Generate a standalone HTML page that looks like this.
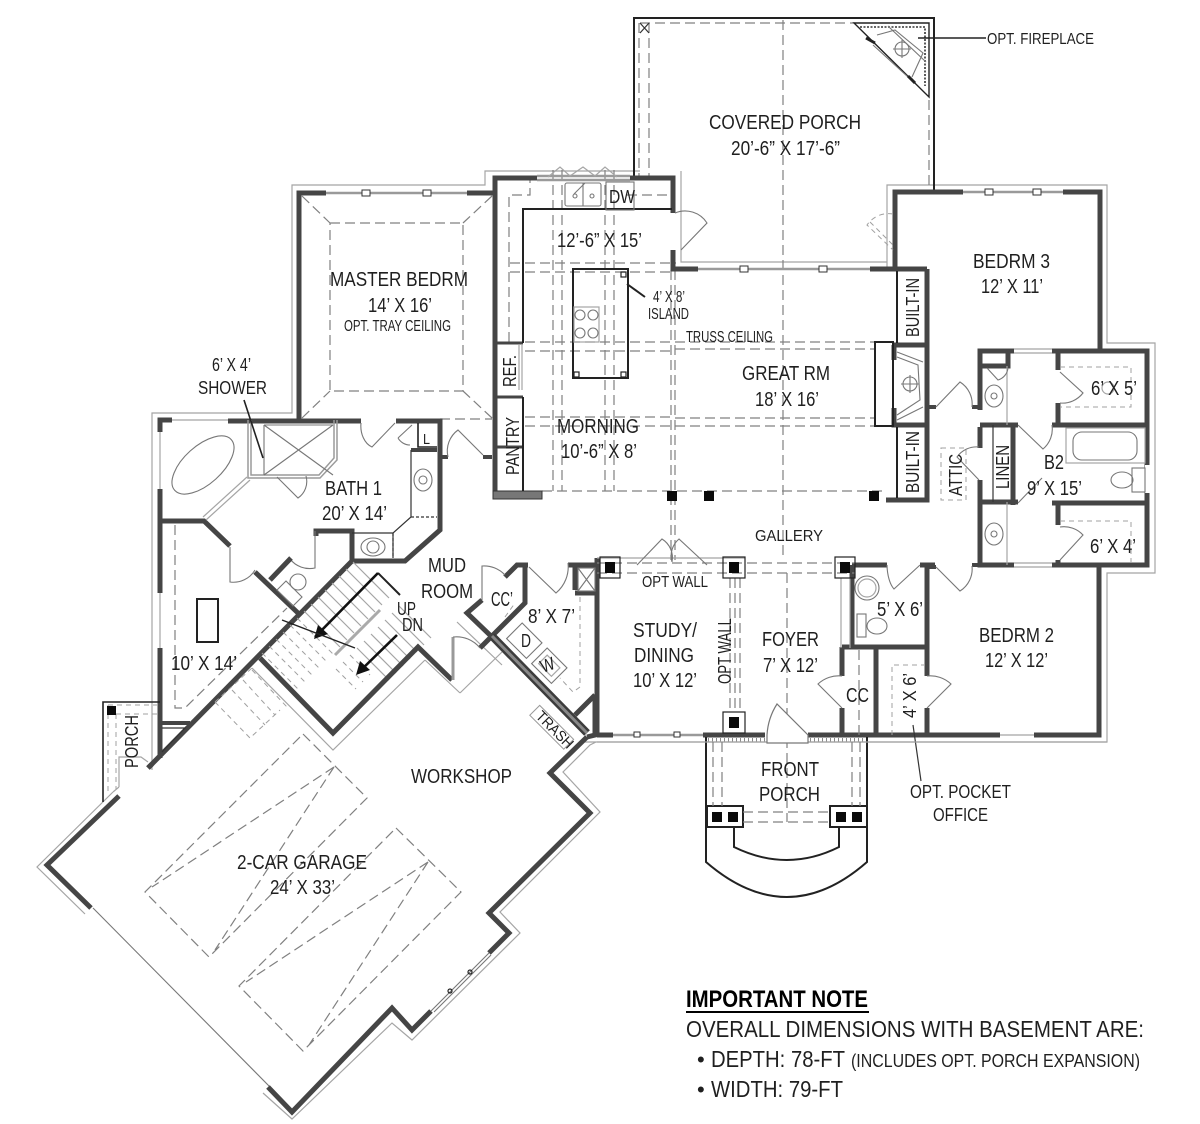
<!DOCTYPE html>
<html>
<head>
<meta charset="utf-8">
<style>
html,body{margin:0;padding:0;background:#fff}
svg{display:block}
text{font-family:"Liberation Sans",sans-serif;fill:#1f1f1f}
.w{stroke:#454545;stroke-width:5;fill:none}
.k{stroke:#222;stroke-width:2;fill:none}
.t{stroke:#333;stroke-width:1.2;fill:none}
.g{stroke:#a5a5a5;stroke-width:1.2;fill:none}
.m{stroke:#777;stroke-width:1.1;fill:none}
.d{stroke:#808080;stroke-width:1.2;fill:none;stroke-dasharray:10 5}
.s{stroke:#a0a0a0;stroke-width:1;fill:none;stroke-dasharray:5 4}
.v{stroke:#9a9a9a;stroke-width:2.5;fill:none}
</style>
</head>
<body>
<svg width="1200" height="1124" viewBox="0 0 1200 1124" xmlns="http://www.w3.org/2000/svg">
<rect width="1200" height="1124" fill="#fff"/>

<!-- outer light outline -->
<path class="g" d="M152,770V413H292V185H485V171H640M887,270V185H1107V343H1155V573H1107V742H585M113,792L37,867L85,914M263,1093L292,1119L392,1023L412,1040L520,933L500,912L600,812L563,772L590,745L596,742"/>
<path class="g" d="M681,171V262H887"/>
<path class="g" d="M252,668L333,750L425,660M460,693L502,652M457,622L502,665M460,693L425,660"/>

<!-- covered porch -->
<path class="k" d="M634,178V18H934V190" style="stroke-width:2"/>
<path class="d" d="M640,23H855M639,23V178M649,23V178M783,20V560M929,100V190"/>
<path class="t" d="M640,23L649,33M649,23L640,33"/>
<path class="k" d="M854,23H929V97Z" style="stroke-width:1.4"/>
<path class="t" d="M860,27H925V86" style="stroke-dasharray:2 1.5;stroke-width:1.6"/>
<path class="m" d="M873,45L908,77M877,35L895,30L923,53L912,77M888,26L926,62" />
<path class="k" d="M866,38L875,43M908,76L915,83" style="stroke-width:3"/>
<circle class="m" cx="902" cy="49" r="7"/><path class="m" d="M902,40V58M893,49H911"/>
<path class="k" d="M918,38H986" style="stroke-width:1.6"/>

<!-- dashed ceilings -->
<path class="d" d="M553,170V491M562,170V491M605,170V491M614,170V491M510,263H676M510,272H672M525,342H875M525,351H672M675,349H875M525,417H675M675,418H875M525,426H875M542,491H886M671,270V560M675,270V560M509,342V195H530V180M627,195H670"/>
<path class="d" d="M330,223H463V391H330ZM302,196L330,223M492,196L463,223M302,418L330,391M492,418L463,391M440,419H492"/>

<!-- master walls -->
<path class="w" d="M326,193H299V423M467,193H493M228,421H361M396,421H440V530L405,561H352V531H316V536"/>
<path class="v" d="M326,193H467"/>
<rect x="362" y="190" width="8" height="6" fill="#fff" stroke="#333"/>
<rect x="423" y="190" width="8" height="6" fill="#fff" stroke="#333"/>

<!-- kitchen / great room walls -->
<path class="w" d="M537,178H495V498M630,178H673V213M673,250V269H698M870,269H895V192H963M1063,192H1100V351M895,269H927M927,269V500H886M894,345H927M894,345V360M894,408V425H927"/>
<path class="k" d="M897,271V343M897,427V498"/>
<path class="v" d="M537,176H630M537,180H630M698,269H870M963,192H1063"/>
<rect x="740" y="266" width="8" height="6" fill="#fff" stroke="#333"/>
<rect x="819" y="266" width="8" height="6" fill="#fff" stroke="#333"/>
<rect x="985" y="189" width="8" height="6" fill="#fff" stroke="#333"/>
<rect x="1033" y="189" width="8" height="6" fill="#fff" stroke="#333"/>
<rect x="493" y="491" width="49" height="8" fill="#777" stroke="#333"/>
<path class="w" style="stroke-width:3" d="M495,343H523M495,397H523M495,447H523"/>
<path class="k" d="M523,397V491M523,343V209H672"/>
<!-- sink, DW -->
<rect x="565" y="183" width="36" height="23" rx="2" class="m"/><path class="m" d="M583,183V206"/>
<circle class="m" cx="575" cy="196" r="2"/><circle class="m" cx="592" cy="196" r="2"/><path class="m" d="M574,194L585,183"/>
<rect x="606" y="182" width="28" height="28" class="m"/>
<path class="g" d="M548,177L560,167L570,176L583,167L595,176L605,167L617,177"/>
<!-- island -->
<rect x="573" y="269" width="55" height="109" class="k"/>
<rect x="574" y="307" width="25" height="35" class="g"/>
<circle class="m" cx="580" cy="315" r="5"/><circle class="m" cx="593" cy="315" r="5"/><circle class="m" cx="580" cy="333" r="5"/><circle class="m" cx="593" cy="333" r="5"/>
<rect x="621" y="272" width="5" height="5" class="k" style="stroke-width:1.2"/><rect x="574" y="372" width="5" height="5" class="k" style="stroke-width:1.2"/><rect x="621" y="372" width="5" height="5" class="k" style="stroke-width:1.2"/>
<path class="k" d="M627,284L645,297"/>
<path class="g" d="M519,345V390M522,345V390"/>
<!-- posts -->
<rect x="667" y="491" width="10" height="10" fill="#0a0a0a"/><rect x="704" y="491" width="10" height="10" fill="#0a0a0a"/><rect x="869" y="491" width="10" height="10" fill="#0a0a0a"/>
<!-- fireplace great room -->
<rect x="875" y="342" width="18" height="84" class="k"/>
<path class="m" d="M897,357L918,365L920,400L897,415M897,352L923,362M897,420L923,407"/>
<circle class="m" cx="910" cy="384" r="7"/><path class="m" d="M910,375V393M901,384H919"/>

<!-- door great room -> bedroom wing -->
<path class="w" style="stroke-width:4" d="M928,407H936M972,407H980M928,567H936M972,565H980"/>
<path class="m" d="M936,407L960,382A26,26 0 0 1 972,407M936,567L960,591A26,26 0 0 0 972,566"/>
<path class="m" d="M681,250L707,223A26,26 0 0 0 675,213"/>
<path class="s" d="M893,214A26,26 0 0 0 867,225L893,250M870,222L893,245"/>

<!-- bedroom wing walls -->
<path class="w" d="M1014,351H980V410M980,427V448M980,480V565H1014M1052,351H1147V565H1052M1058,351V370M1058,403V425M1052,425H1147M980,425H1018M1013,425V505M980,502H1018M1052,503H1147M1058,503V525M1058,560V565M1099,565V735H1034M992,735H876M982,366H1008V351"/>
<path class="g" d="M1014,349H1052M1014,353H1052M1014,563H1052M1014,567H1052M992,735H1034M1007,366V425M1007,502V565M1149,465V493"/>
<rect x="1145" y="465" width="6" height="28" fill="#fff" stroke="none"/>
<path class="t" d="M993,425V502"/>
<path class="m" d="M1018,425L1043,449A26,26 0 0 0 1052,425M1018,503L1042,478M1060,372L1083,393A26,26 0 0 1 1060,403M1060,527A26,26 0 0 1 1083,535L1060,560"/>
<path class="m" d="M979,480L957,457A24,24 0 0 1 979,447M987,368L998,380A14,14 0 0 0 1008,368"/>
<path class="s" d="M941,448H966V500H941ZM1060,367H1131V407H1060M1060,521H1131V565"/>
<circle class="g" cx="1108" cy="388" r="6"/>
<ellipse class="m" cx="994" cy="396" rx="9" ry="11"/><ellipse class="m" cx="994" cy="534" rx="9" ry="11"/>
<circle class="m" cx="994" cy="396" r="3"/><circle class="m" cx="994" cy="534" r="3"/>
<rect x="1066" y="428" width="79" height="35" class="g"/>
<rect x="1073" y="432" width="64" height="28" rx="9" class="m"/>
<rect x="1132" y="468" width="13" height="24" class="m"/><ellipse class="m" cx="1122" cy="480" rx="11" ry="8"/>

<!-- study / foyer / front -->
<path class="w" d="M597,558V735M597,735H613M703,735H765M808,735H1000M852,565V648M852,565H887M920,565H935M927,565V676M927,708V735M842,647H927M842,647V676M842,708V735M876,647V735"/>
<path class="v" d="M613,735H703"/>
<rect x="634" y="732" width="6" height="5" fill="#fff" stroke="#333"/><rect x="674" y="732" width="6" height="5" fill="#fff" stroke="#333"/>
<path class="d" d="M597,563H855M597,573H855M730,578V712M735,578V712M740,578V712M787,573V822M859,650V735"/>
<path class="s" d="M892,735V665H925"/>
<path class="g" d="M597,558H745M841,578V648M850,578V648"/>
<rect x="600" y="557" width="20" height="21" fill="#fff" class="k" style="stroke-width:1.2"/><rect x="605" y="562" width="10" height="11" fill="#0a0a0a"/>
<rect x="723" y="557" width="22" height="21" fill="#fff" class="k" style="stroke-width:1.2"/><rect x="729" y="562" width="10" height="11" fill="#0a0a0a"/>
<rect x="835" y="557" width="20" height="21" fill="#fff" class="k" style="stroke-width:1.2"/><rect x="840" y="562" width="10" height="11" fill="#0a0a0a"/>
<rect x="723" y="712" width="22" height="21" fill="#fff" class="k" style="stroke-width:1.2"/><rect x="729" y="717" width="10" height="11" fill="#0a0a0a"/>
<path class="m" d="M637,565L662,539A22,22 0 0 1 672,562M707,565L679,539A22,22 0 0 0 672,562"/>
<path class="m" d="M842,676A30,30 0 0 0 818,684L842,708M927,676A30,30 0 0 1 951,684L927,708"/>
<circle class="m" cx="867" cy="588" r="12"/><circle class="g" cx="867" cy="588" r="9"/>
<rect x="857" y="614" width="9" height="23" class="m"/><ellipse class="m" cx="877" cy="626" rx="10" ry="8"/>
<path class="m" d="M887,565A12,28 0 0 0 894,589L920,565"/>
<path class="t" d="M913,725L921,781"/>

<!-- front porch -->
<path class="s" style="stroke:#888;stroke-width:4;stroke-dasharray:1 3" d="M708,740H765M810,740H866"/>
<path class="k" d="M706,737V862Q787,932 867,862V737M707,806H743V827H707ZM830,806H867V827H830ZM734,827V847Q787,873 839,847V827"/>
<path class="g" d="M597,742H1107"/>
<path class="d" d="M713,742V806M722,742V806M852,742V806M860,742V806M743,812H830M743,822H830"/>
<rect x="712" y="812" width="10" height="10" fill="#0a0a0a"/><rect x="728" y="812" width="10" height="10" fill="#0a0a0a"/><rect x="836" y="812" width="10" height="10" fill="#0a0a0a"/><rect x="852" y="812" width="10" height="10" fill="#0a0a0a"/>
<path d="M767,743V735Q768,718 777,704L808,735V743Z" fill="#fff" stroke="#777" stroke-width="1.2"/>

<!-- bath 1 -->
<path class="w" d="M172,420H160V432M160,489V593M160,648V758M160,521H204L230,546"/>
<path class="w" d="M352,561L148,768"/>
<path class="g" d="M172,420H228M160,432V489M160,593V648"/>
<path class="v" style="stroke-width:1.5" d="M248,420V478H320L337,460V420M251,420V475H319L334,458V420"/>
<path class="m" d="M264,425H333M264,425V475M264,425L333,475M264,475L333,425"/>
<path class="k" d="M244,400L263,458" style="stroke-width:1.6"/>
<ellipse class="m" cx="203" cy="465" rx="38" ry="19" transform="rotate(-42 203 465)"/>
<path class="g" d="M203,517L247,477M206,520L250,480"/>
<path class="m" d="M277,477L298,498A20,20 0 0 0 306,476M230,547V582A25,25 0 0 0 255,570"/>
<path class="m" d="M361,423A16,22 0 0 0 372,447L395,423M398,438L412,425M398,438A14,14 0 0 0 410,445"/>
<path class="k" d="M418,423V447H437" style="stroke-width:1.6"/>
<path class="w" style="stroke-width:4" d="M411,450H437M442,457H448M483,457H492"/>
<path class="t" d="M411,450V517L393,533V558M352,533H393"/>
<path class="t" style="stroke-dasharray:3 2" d="M411,517H437M393,533V558"/>
<path class="m" d="M448,457A26,26 0 0 1 458,430L483,455"/>
<ellipse class="m" cx="423" cy="480" rx="9" ry="11"/><ellipse class="m" cx="373" cy="547" rx="12" ry="9"/><circle class="m" cx="423" cy="480" r="4"/><circle class="m" cx="373" cy="547" r="6"/>
<path class="m" d="M315,531V568A25,25 0 0 1 290,559"/>
<path class="w" d="M255,572L298,613M270,580L291,558"/>
<ellipse class="m" cx="298" cy="582" rx="8" ry="8"/><path class="m" d="M277,590L286,581L302,597L293,606Z"/>

<!-- closet left -->
<path class="d" d="M175,525V708H185L287,608"/>
<rect x="197" y="599" width="21" height="43" class="k"/>
<path class="w" style="stroke-width:4" d="M160,723H190"/>
<path class="t" d="M162,728H185L162,752"/>

<!-- stairs -->
<path class="g" d="M353,562l36,36M346,569l36,36M339,576l36,36M332,583l36,36M325,590l36,36M318,597l36,36M311,604l36,36M304,611l36,36M399,606l32,32M392,613l32,32M385,620l32,32M378,627l32,32M371,634l32,32M364,641l32,32M357,648l32,32"/>
<path class="s" d="M297,618l36,36M290,625l36,36M283,632l36,36M276,639l36,36M269,646l36,36M262,653l36,36M350,655l20,20M343,662l20,20M336,669l20,20"/>
<path class="s" d="M215,702L250,738L280,710M232,690L265,725M243,680L275,715M252,670L287,707M215,702L252,668"/>
<path class="k" d="M378,573L400,595"/>
<path d="M378,573L315,637M397,635L358,673" stroke="#111" stroke-width="2.6" fill="none"/>
<polygon points="314,639 318,625 328,634" fill="#111"/><polygon points="356,675 360,661 370,670" fill="#111"/>
<path d="M380,610L335,655" stroke="#aaa" stroke-width="3" fill="none"/>
<path class="k" d="M282,620L355,648" style="stroke-width:1.4"/>
<path class="w" d="M260,658L333,733L418,647L452,680"/>
<path d="M453,680V637" stroke="#999" stroke-width="3" fill="none"/>

<!-- mud room / laundry -->
<path class="w" d="M482,600L467,613L492,637M505,577L517,565H528M525,565V603L480,648M568,565H597M575,565V590M575,593H597"/>
<path d="M492,636L587,733" stroke="#3c3c3c" stroke-width="8" fill="none"/>
<path d="M492,636L587,733" stroke="#888" stroke-width="3" fill="none"/>
<path class="m" d="M505,575A28,28 0 0 0 482,566V600M529,567L556,593A34,34 0 0 0 568,563M453,637A30,30 0 0 1 480,648"/>
<rect x="578" y="568" width="17" height="23" class="m"/><path class="m" d="M578,568L595,591M595,568L578,591"/>
<path class="s" d="M580,597V687L573,692L560,678M505,617L515,603"/>
<g transform="rotate(45 525 640)"><rect x="511" y="630" width="28" height="22" class="m"/></g>
<g transform="rotate(45 550 665)"><rect x="536" y="655" width="28" height="22" class="m"/><rect x="541" y="660" width="18" height="12" class="g"/></g>
<path class="w" d="M575,715L595,695"/>
<g transform="rotate(45 551 728)"><rect x="527" y="720" width="48" height="14" fill="#fff" stroke="#999" stroke-width="1"/></g>

<!-- garage -->
<path class="w" d="M148,768L152,764"/>
<path class="w" d="M119,796L47,865L91,908"/>
<path class="m" d="M93,908L270,1087"/>
<path class="w" d="M268,1087L292,1112L392,1008L412,1030L431,1011M489,953L509,933L489,913L590,813L550,773L587,737"/>
<path class="m" d="M431,1011L489,953M434,1012L491,955"/>
<circle class="k" cx="450" cy="991" r="2" style="stroke-width:1.2"/><circle class="k" cx="470" cy="972" r="2" style="stroke-width:1.2"/>
<path d="M595,695V735L587,737" stroke="#454545" stroke-width="5" fill="none"/>
<path class="d" d="M303,734L367,798L209,957L145,892ZM334,767L152,887M334,767L215,950M396,828L461,892L303,1051L239,986ZM428,862L246,982M428,862L309,1045"/>

<!-- porch left -->
<path class="k" d="M103,802V702H160" style="stroke-width:1.6"/>
<path class="s" d="M108,705V795M116,714V790M108,705H160M116,714H160"/>
<path class="g" d="M119,787V757H141L148,762M119,787L113,792"/>
<rect x="107" y="706" width="9" height="9" fill="#0a0a0a"/>

<!-- labels -->
<g style="font-size:20px">
<text x="709" y="129" textLength="152" lengthAdjust="spacingAndGlyphs">COVERED PORCH</text>
<text x="731" y="155" textLength="109" lengthAdjust="spacingAndGlyphs">20’-6” X 17’-6”</text>
<text x="973" y="268" textLength="77" lengthAdjust="spacingAndGlyphs">BEDRM 3</text>
<text x="981" y="293" textLength="62" lengthAdjust="spacingAndGlyphs">12’ X 11’</text>
<text x="330" y="286" textLength="138" lengthAdjust="spacingAndGlyphs">MASTER BEDRM</text>
<text x="368" y="312" textLength="64" lengthAdjust="spacingAndGlyphs">14’ X 16’</text>
<text x="557" y="247" textLength="85" lengthAdjust="spacingAndGlyphs">12’-6” X 15’</text>
<text x="742" y="380" textLength="88" lengthAdjust="spacingAndGlyphs">GREAT RM</text>
<text x="755" y="406" textLength="64" lengthAdjust="spacingAndGlyphs">18’ X 16’</text>
<text x="557" y="433" textLength="82" lengthAdjust="spacingAndGlyphs">MORNING</text>
<text x="561" y="458" textLength="76" lengthAdjust="spacingAndGlyphs">10’-6” X 8’</text>
<text x="1044" y="469" textLength="20" lengthAdjust="spacingAndGlyphs">B2</text>
<text x="1027" y="495" textLength="55" lengthAdjust="spacingAndGlyphs">9’ X 15’</text>
<text x="1091" y="395" textLength="46" lengthAdjust="spacingAndGlyphs">6’ X 5’</text>
<text x="1090" y="553" textLength="46" lengthAdjust="spacingAndGlyphs">6’ X 4’</text>
<text x="979" y="642" textLength="75" lengthAdjust="spacingAndGlyphs">BEDRM 2</text>
<text x="985" y="667" textLength="63" lengthAdjust="spacingAndGlyphs">12’ X 12’</text>
<text x="877" y="616" textLength="46" lengthAdjust="spacingAndGlyphs">5’ X 6’</text>
<text x="846" y="702" textLength="23" lengthAdjust="spacingAndGlyphs">CC</text>
<text x="762" y="646" textLength="57" lengthAdjust="spacingAndGlyphs">FOYER</text>
<text x="763" y="672" textLength="55" lengthAdjust="spacingAndGlyphs">7’ X 12’</text>
<text x="633" y="637" textLength="64" lengthAdjust="spacingAndGlyphs">STUDY/</text>
<text x="634" y="662" textLength="60" lengthAdjust="spacingAndGlyphs">DINING</text>
<text x="633" y="687" textLength="64" lengthAdjust="spacingAndGlyphs">10’ X 12’</text>
<text x="761" y="776" textLength="58" lengthAdjust="spacingAndGlyphs">FRONT</text>
<text x="759" y="801" textLength="61" lengthAdjust="spacingAndGlyphs">PORCH</text>
<text x="325" y="495" textLength="57" lengthAdjust="spacingAndGlyphs">BATH 1</text>
<text x="322" y="520" textLength="65" lengthAdjust="spacingAndGlyphs">20’ X 14’</text>
<text x="428" y="572" textLength="38" lengthAdjust="spacingAndGlyphs">MUD</text>
<text x="421" y="598" textLength="52" lengthAdjust="spacingAndGlyphs">ROOM</text>
<text x="491" y="606" textLength="22" lengthAdjust="spacingAndGlyphs">CC’</text>
<text x="528" y="623" textLength="47" lengthAdjust="spacingAndGlyphs">8’ X 7’</text>
<text x="171" y="670" textLength="66" lengthAdjust="spacingAndGlyphs">10’ X 14’</text>
<text x="411" y="783" textLength="101" lengthAdjust="spacingAndGlyphs">WORKSHOP</text>
<text x="237" y="869" textLength="130" lengthAdjust="spacingAndGlyphs">2-CAR GARAGE</text>
<text x="270" y="894" textLength="65" lengthAdjust="spacingAndGlyphs">24’ X 33’</text>
</g>
<g style="font-size:18px">
<text x="397" y="615" textLength="19" lengthAdjust="spacingAndGlyphs">UP</text>
<text x="402" y="631" textLength="21" lengthAdjust="spacingAndGlyphs">DN</text>
<text x="212" y="371" textLength="39" lengthAdjust="spacingAndGlyphs">6’ X 4’</text>
<text x="198" y="394" textLength="69" lengthAdjust="spacingAndGlyphs">SHOWER</text>
<text x="910" y="798" textLength="101" lengthAdjust="spacingAndGlyphs">OPT. POCKET</text>
<text x="933" y="821" textLength="55" lengthAdjust="spacingAndGlyphs">OFFICE</text>
<text x="609" y="203" textLength="26" lengthAdjust="spacingAndGlyphs">DW</text>
<text x="521" y="647" textLength="10" lengthAdjust="spacingAndGlyphs">D</text>
<text transform="rotate(-20 543 673)" x="543" y="673" textLength="14" lengthAdjust="spacingAndGlyphs">W</text>
<text x="423" y="444" textLength="7" lengthAdjust="spacingAndGlyphs" style="font-size:15px">L</text>
</g>
<g style="font-size:18px">
<text transform="rotate(-90 919 337)" x="919" y="337" textLength="59" lengthAdjust="spacingAndGlyphs">BUILT-IN</text>
<text transform="rotate(-90 919 493)" x="919" y="493" textLength="62" lengthAdjust="spacingAndGlyphs">BUILT-IN</text>
<text transform="rotate(-90 516 387)" x="516" y="387" textLength="32" lengthAdjust="spacingAndGlyphs">REF.</text>
<text transform="rotate(-90 519 475)" x="519" y="475" textLength="58" lengthAdjust="spacingAndGlyphs">PANTRY</text>
<text transform="rotate(-90 962 496)" x="962" y="496" textLength="42" lengthAdjust="spacingAndGlyphs">ATTIC</text>
<text transform="rotate(-90 1009 489)" x="1009" y="489" textLength="44" lengthAdjust="spacingAndGlyphs">LINEN</text>
<text transform="rotate(-90 916 718)" x="916" y="718" textLength="45" lengthAdjust="spacingAndGlyphs">4’ X 6’</text>
<text transform="rotate(-90 731 684)" x="731" y="684" textLength="66" lengthAdjust="spacingAndGlyphs">OPT WALL</text>
<text transform="rotate(-90 138 768)" x="138" y="768" textLength="53" lengthAdjust="spacingAndGlyphs">PORCH</text>
<text transform="rotate(45 535 717)" x="535" y="717" textLength="46" lengthAdjust="spacingAndGlyphs" style="font-size:15px">TRASH</text>
</g>
<g style="font-size:16px">
<text x="987" y="44" textLength="107" lengthAdjust="spacingAndGlyphs">OPT. FIREPLACE</text>
<text x="344" y="331" textLength="107" lengthAdjust="spacingAndGlyphs">OPT. TRAY CEILING</text>
<text x="653" y="302" textLength="32" lengthAdjust="spacingAndGlyphs">4’ X 8’</text>
<text x="648" y="319" textLength="41" lengthAdjust="spacingAndGlyphs">ISLAND</text>
<text x="686" y="342" textLength="87" lengthAdjust="spacingAndGlyphs">TRUSS CEILING</text>
<text x="642" y="587" textLength="66" lengthAdjust="spacingAndGlyphs">OPT WALL</text>
<text x="755" y="541" textLength="68" lengthAdjust="spacingAndGlyphs">GALLERY</text>
</g>
<text x="686" y="1007" textLength="182" lengthAdjust="spacingAndGlyphs" style="font-size:24px;font-weight:bold;fill:#000">IMPORTANT NOTE</text>
<rect x="686" y="1011" width="183" height="2" fill="#000"/>
<text x="686" y="1037" textLength="458" lengthAdjust="spacingAndGlyphs" style="font-size:23px">OVERALL DIMENSIONS WITH BASEMENT ARE:</text>
<text x="697" y="1067" style="font-size:22px">•</text>
<text x="711" y="1067" textLength="134" lengthAdjust="spacingAndGlyphs" style="font-size:23px">DEPTH: 78-FT</text>
<text x="851" y="1067" textLength="289" lengthAdjust="spacingAndGlyphs" style="font-size:18px">(INCLUDES OPT. PORCH EXPANSION)</text>
<text x="697" y="1097" style="font-size:22px">•</text>
<text x="711" y="1097" textLength="132" lengthAdjust="spacingAndGlyphs" style="font-size:23px">WIDTH: 79-FT</text>
</svg>
</body>
</html>
